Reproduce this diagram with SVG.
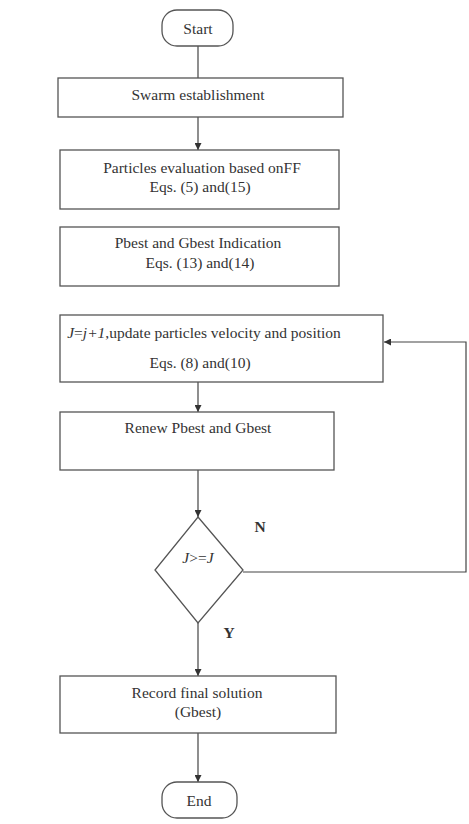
<svg xmlns="http://www.w3.org/2000/svg" width="469" height="824" viewBox="0 0 469 824">
<defs>
<style>
.box{fill:#fff;stroke:#555;stroke-width:1.3}
.t{font-family:'Liberation Serif','DejaVu Serif',serif;font-size:15.5px;fill:#333;text-anchor:middle}
.c{fill:none;stroke:#444;stroke-width:1.2}
.b{font-weight:bold}
</style>
<marker id="ah" viewBox="0 0 10 10" refX="10" refY="5" markerWidth="7" markerHeight="7" orient="auto" markerUnits="userSpaceOnUse"><path d="M0,0 L10,5 L0,10 z" fill="#333"/></marker>
</defs>
<rect width="469" height="824" fill="#fff"/>
<g id="connectors">
<line class="c" x1="198" y1="46" x2="198" y2="78"/>
<line class="c" x1="198" y1="117" x2="198" y2="150" marker-end="url(#ah)"/>
<line class="c" x1="198" y1="382" x2="198" y2="412" marker-end="url(#ah)"/>
<line class="c" x1="198" y1="470" x2="198" y2="517" marker-end="url(#ah)"/>
<line class="c" x1="198" y1="623" x2="198" y2="676" marker-end="url(#ah)"/>
<line class="c" x1="198" y1="733" x2="198" y2="782" marker-end="url(#ah)"/>
<polyline class="c" points="243,572 466,572 466,342 384,342" marker-end="url(#ah)"/>
<text class="t b" x="260" y="532" font-family="Liberation Serif, serif">N</text>
<text class="t b" x="229" y="638" font-family="Liberation Serif, serif">Y</text>
</g>
<g id="start"><rect class="box" x="162" y="10" width="71" height="36" rx="15"/><text class="t" x="198" y="34" font-family="Liberation Serif, serif">Start</text></g>
<g id="swarm"><rect class="box" x="58" y="78" width="285" height="39"/><text class="t" x="198" y="100" font-family="Liberation Serif, serif">Swarm establishment</text></g>
<g id="eval"><rect class="box" x="60" y="150" width="279" height="59"/><text class="t" x="202" y="173" font-family="Liberation Serif, serif">Particles evaluation based onFF</text><text class="t" x="200" y="192" font-family="Liberation Serif, serif">Eqs. (5) and(15)</text></g>
<g id="pbest"><rect class="box" x="60" y="227" width="279" height="59"/><text class="t" x="198" y="248" font-family="Liberation Serif, serif">Pbest and Gbest Indication</text><text class="t" x="200" y="268" font-family="Liberation Serif, serif">Eqs. (13) and(14)</text></g>
<g id="update"><rect class="box" x="60" y="315" width="323" height="67"/><text class="t" x="204" y="338" font-family="Liberation Serif, serif"><tspan font-style="italic">J</tspan>=<tspan font-style="italic">j+1</tspan>,update particles velocity and position</text><text class="t" x="200" y="368" font-family="Liberation Serif, serif">Eqs. (8) and(10)</text></g>
<g id="renew"><rect class="box" x="60" y="412" width="274" height="58"/><text class="t" x="198" y="433" font-family="Liberation Serif, serif">Renew Pbest and Gbest</text></g>
<g id="decision"><polygon class="box" points="198,517 243,570 198,623 155,570"/><text class="t" x="198" y="563" font-family="Liberation Serif, serif"><tspan font-style="italic">J</tspan>&gt;=<tspan font-style="italic">J</tspan></text></g>
<g id="record"><rect class="box" x="60" y="676" width="276" height="57"/><text class="t" x="197" y="698" font-family="Liberation Serif, serif">Record final solution</text><text class="t" x="198" y="717" font-family="Liberation Serif, serif">(Gbest)</text></g>
<g id="end"><rect class="box" x="162" y="782" width="75" height="36" rx="15"/><text class="t" x="199" y="806" font-family="Liberation Serif, serif">End</text></g>
</svg>
